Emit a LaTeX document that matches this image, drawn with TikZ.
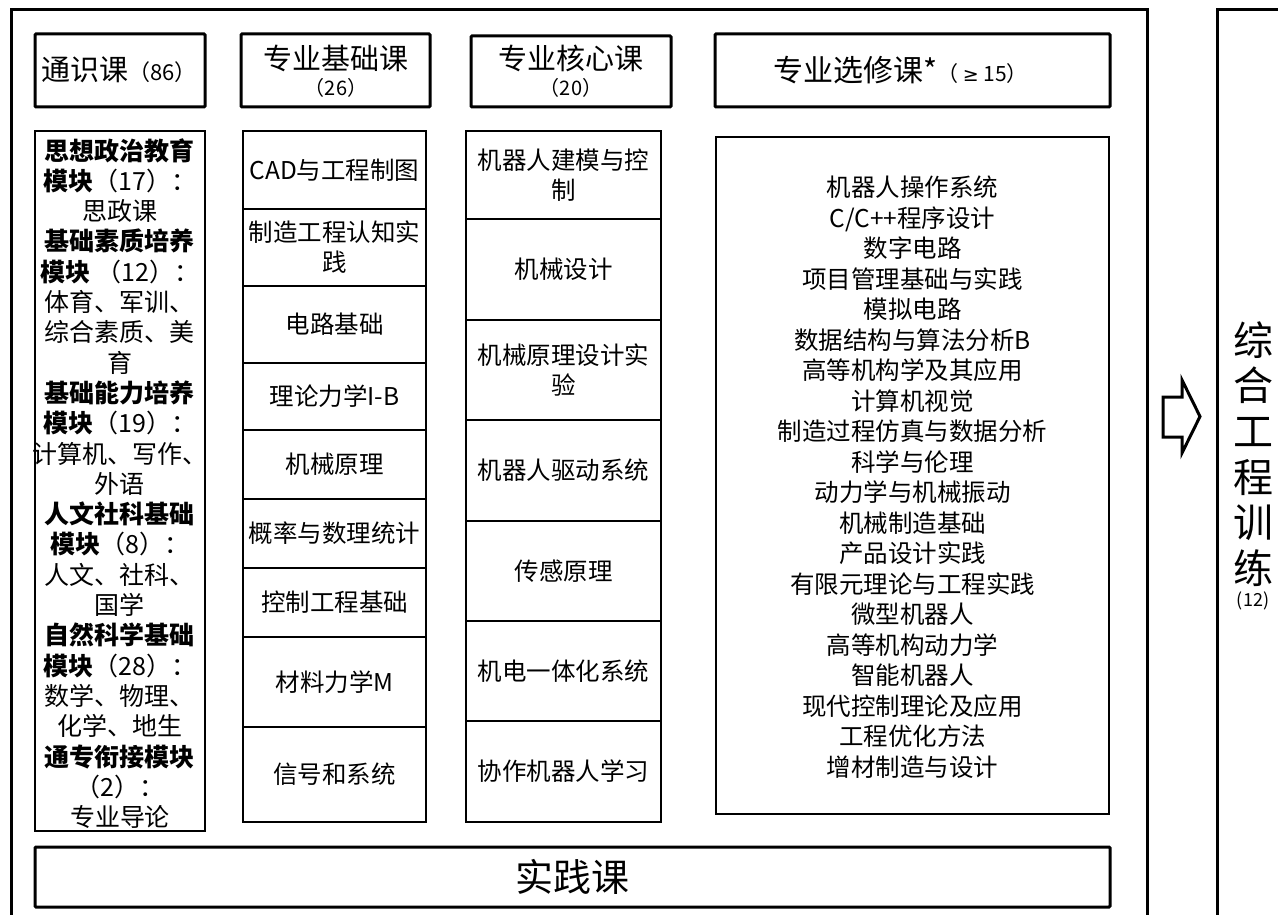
\documentclass[tikz,border=0pt]{standalone}
\usepackage{fontspec}
\setmainfont{Noto Sans CJK SC}
\newfontfamily\dvsym{DejaVu Sans}
\newcommand{\fs}[2]{\fontsize{#1}{#2}\selectfont}
\begin{document}
\begin{tikzpicture}[x=1pt,y=-1pt,
  hdr/.style={draw, line width=3pt, rounded corners=1pt, inner sep=0pt, align=center},
  colbox/.style={draw, line width=1.3pt, inner sep=0pt},
  cellA/.style={draw, line width=1.3pt, inner sep=0pt, align=center, minimum width=183, font=\fs{24.5}{30}},
  cellB/.style={draw, line width=1.3pt, inner sep=0pt, align=center, minimum width=195, font=\fs{24.5}{30}},
  txt/.style={inner sep=0pt, align=center},
  big/.style={txt, font=\fs{29}{30}},
  small/.style={txt, font=\fs{20}{20}}]
\useasboundingbox (0,0) rectangle (1278,915);
\fill[white] (0,0) rectangle (1278,915);
\clip (0,0) rectangle (1278,915);
% outer frames
\draw[line width=3pt] (11,930) -- (11,10) -- (1147,10) -- (1147,930);
\draw[line width=3pt] (1300,10) -- (1217,10) -- (1217,930);
% headers
\node[hdr, minimum width=170, minimum height=73] (h1) at (120,70.5) {};
\node[txt, anchor=base west] (h1t) at (41,81) {{\fs{29}{30}通识课}{\fs{22}{22}（86）}};
\node[hdr, minimum width=189, minimum height=73] (h2) at (335.5,70.5) {};
\node[big] (h2t) at (336,58) {专业基础课};
\node[small] (h2n) at (336,88) {（26）};
\node[hdr, minimum width=200, minimum height=71] (h3) at (571,71.5) {};
\node[big] (h3t) at (571,58) {专业核心课};
\node[small] (h3n) at (571,88) {（20）};
\node[hdr, minimum width=395, minimum height=73] (h4) at (912.5,70.5) {};
\node[txt, anchor=base west] (h4t) at (773,82) {{\fs{30}{30}专业选修课*}{\fs{21}{20}（ {\dvsym\fs{19}{20}≥} 15）}};
% general courses
\node[colbox, minimum width=170, minimum height=700] (g) at (120,481) {};
\node[txt, font=\fs{25}{30.3}] (gt) at (120,483.5) {%
\textbf{思想政治教育}\\
\textbf{模块}（17）：\\
思政课\\
\textbf{基础素质培养}\\
\textbf{模块} （12）：\\
体育、军训、\\
综合素质、美\\
育\\
\textbf{基础能力培养}\\
\textbf{模块}（19）：\\
计算机、写作、\\
外语\\
\textbf{人文社科基础}\\
\textbf{模块}（8）：\\
人文、社科、\\
国学\\
\textbf{自然科学基础}\\
\textbf{模块}（28）：\\
数学、物理、\\
化学、地生\\
\textbf{通专衔接模块}\\
（2）：\\
专业导论};
% basic courses
\node[cellA, minimum height=78] (a1) at (334.5,170) {CAD与工程制图};
\node[cellA, minimum height=77] (a2) at (334.5,247.5) {制造工程认知实\\践};
\node[cellA, minimum height=77] (a3) at (334.5,324.5) {电路基础};
\node[cellA, minimum height=67] (a4) at (334.5,396.5) {理论力学I-B};
\node[cellA, minimum height=69] (a5) at (334.5,464.5) {机械原理};
\node[cellA, minimum height=69] (a6) at (334.5,533.5) {概率与数理统计};
\node[cellA, minimum height=69] (a7) at (334.5,602.5) {控制工程基础};
\node[cellA, minimum height=90] (a8) at (334.5,682) {材料力学M};
\node[cellA, minimum height=95] (a9) at (334.5,774.5) {信号和系统};
% core courses
\node[cellB, minimum height=88] (b1) at (563.5,175) {机器人建模与控\\制};
\node[cellB, minimum height=101] (b2) at (563.5,269.5) {机械设计};
\node[cellB, minimum height=100] (b3) at (563.5,370) {机械原理设计实\\验};
\node[cellB, minimum height=101] (b4) at (563.5,470.5) {机器人驱动系统};
\node[cellB, minimum height=100] (b5) at (563.5,571) {传感原理};
\node[cellB, minimum height=100] (b6) at (563.5,671) {机电一体化系统};
\node[cellB, minimum height=101] (b7) at (563.5,771.5) {协作机器人学习};
% electives
\node[colbox, minimum width=393, minimum height=677] (e) at (912.5,475.5) {};
\node[txt, font=\fs{24.5}{30.5}] (et) at (912.5,477) {%
机器人操作系统\\
C/C++程序设计\\
数字电路\\
项目管理基础与实践\\
模拟电路\\
数据结构与算法分析B\\
高等机构学及其应用\\
计算机视觉\\
制造过程仿真与数据分析\\
科学与伦理\\
动力学与机械振动\\
机械制造基础\\
产品设计实践\\
有限元理论与工程实践\\
微型机器人\\
高等机构动力学\\
智能机器人\\
现代控制理论及应用\\
工程优化方法\\
增材制造与设计};
% practice
\node[hdr, minimum width=1075, minimum height=60, font=\fs{38}{40}] (p) at (572.5,877) {实践课};
% arrow
\draw[line width=3pt, line join=miter] (1163,397) -- (1182,397) -- (1182,380) -- (1200,416.5)
  -- (1182,453) -- (1182,437) -- (1163,437) -- cycle;
% integrated training
\node[txt, font=\fs{40}{45.6}] (z) at (1253,454) {综\\合\\工\\程\\训\\练};
\node[txt, font=\fs{18}{20}] (zn) at (1253,601) {(12)};
\end{tikzpicture}
\end{document}
